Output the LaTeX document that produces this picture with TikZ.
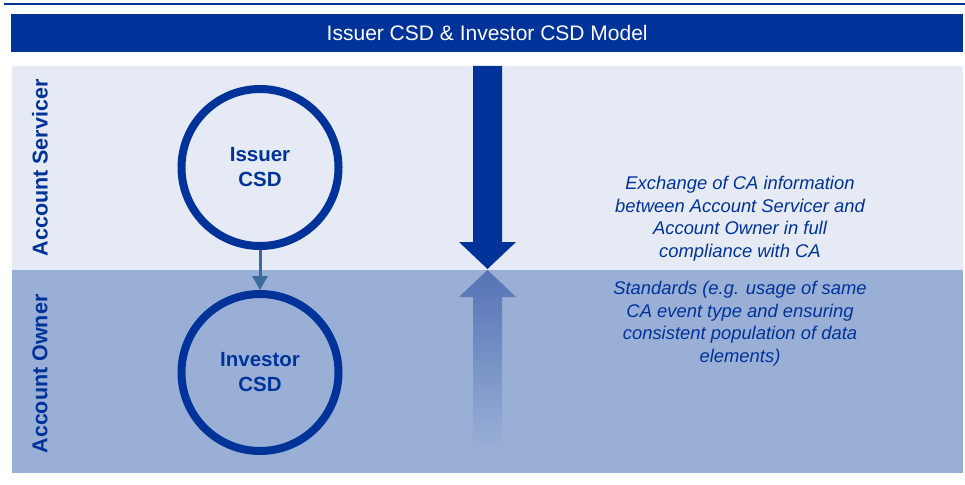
\documentclass[tikz,border=0pt]{standalone}
\usepackage{fontspec}
\setmainfont{Liberation Sans}
\usetikzlibrary{arrows.meta}

\definecolor{ecbblue}{HTML}{003399}
\definecolor{servband}{HTML}{E6EAF4}
\definecolor{ownband}{HTML}{99AFD6}
\definecolor{linkblue}{HTML}{3C6AA0}
\definecolor{mirrorblue}{HTML}{5573B5}

\tikzset{
  band/.style={draw=none, minimum width=951pt, anchor=north west, inner sep=0pt, outer sep=0pt},
  rolelabel/.style={rotate=90, text=ecbblue, font=\fontsize{21.5}{24}\selectfont\bfseries},
  csd/.style={circle, draw=ecbblue, line width=8pt, minimum size=157pt, inner sep=0pt,
    align=center, text=ecbblue, font=\fontsize{20.5}{25}\selectfont\bfseries},
  note/.style={align=center, text=ecbblue, font=\fontsize{18.4}{22.5}\selectfont\itshape},
}

\begin{document}
\begin{tikzpicture}[x=1pt, y=-1pt]
      \useasboundingbox (0,0) rectangle (965,484);

      % Header
      \draw[line width=2.5pt, ecbblue] (4,4) -- (965,4);
      \node[fill=ecbblue, minimum width=952pt, minimum height=38pt, anchor=north west,
        inner sep=0pt, text=white, font=\fontsize{21}{24}\selectfont]
        (title) at (11,14) {Issuer CSD \& Investor CSD Model};

      % Bands
      \node[band, fill=servband, minimum height=204pt] (servicer) at (12,66) {};
      \node[band, fill=ownband, minimum height=203pt] (owner) at (12,270) {};

      \node[rolelabel] (servlabel) at (40,168) {Account Servicer};
      \node[rolelabel] (ownlabel) at (40,374) {Account Owner};

      % CSDs
      \node[csd] (issuer) at (260,167.5) {Issuer\\CSD};
      \node[csd] (investor) at (260,372.5) {Investor\\CSD};

      \draw[-{Triangle[width=15pt,length=14pt]}, line width=3pt, linkblue]
        (issuer.south) -- (investor.north);

      % Big arrow and its reflection
      \fill[ecbblue] (473,66) -- (502,66) -- (502,242) -- (516,242)
        -- (487.5,269) -- (459,242) -- (473,242) -- cycle;
      \shade[top color=mirrorblue, bottom color=ownband] (487.5,270) -- (516,297)
        -- (502,297) -- (502,448) -- (473,448) -- (473,297) -- (459,297) -- cycle;

      % Notes
      \node[note] (exchange) at (740,218.5) {Exchange of CA information\\
        between Account Servicer and\\Account Owner in full\\compliance with CA};
      \node[note] (standards) at (740,323.5) {Standards (e.g. usage of same\\
        CA event type and ensuring\\consistent population of data\\elements)};
\end{tikzpicture}
\end{document}
